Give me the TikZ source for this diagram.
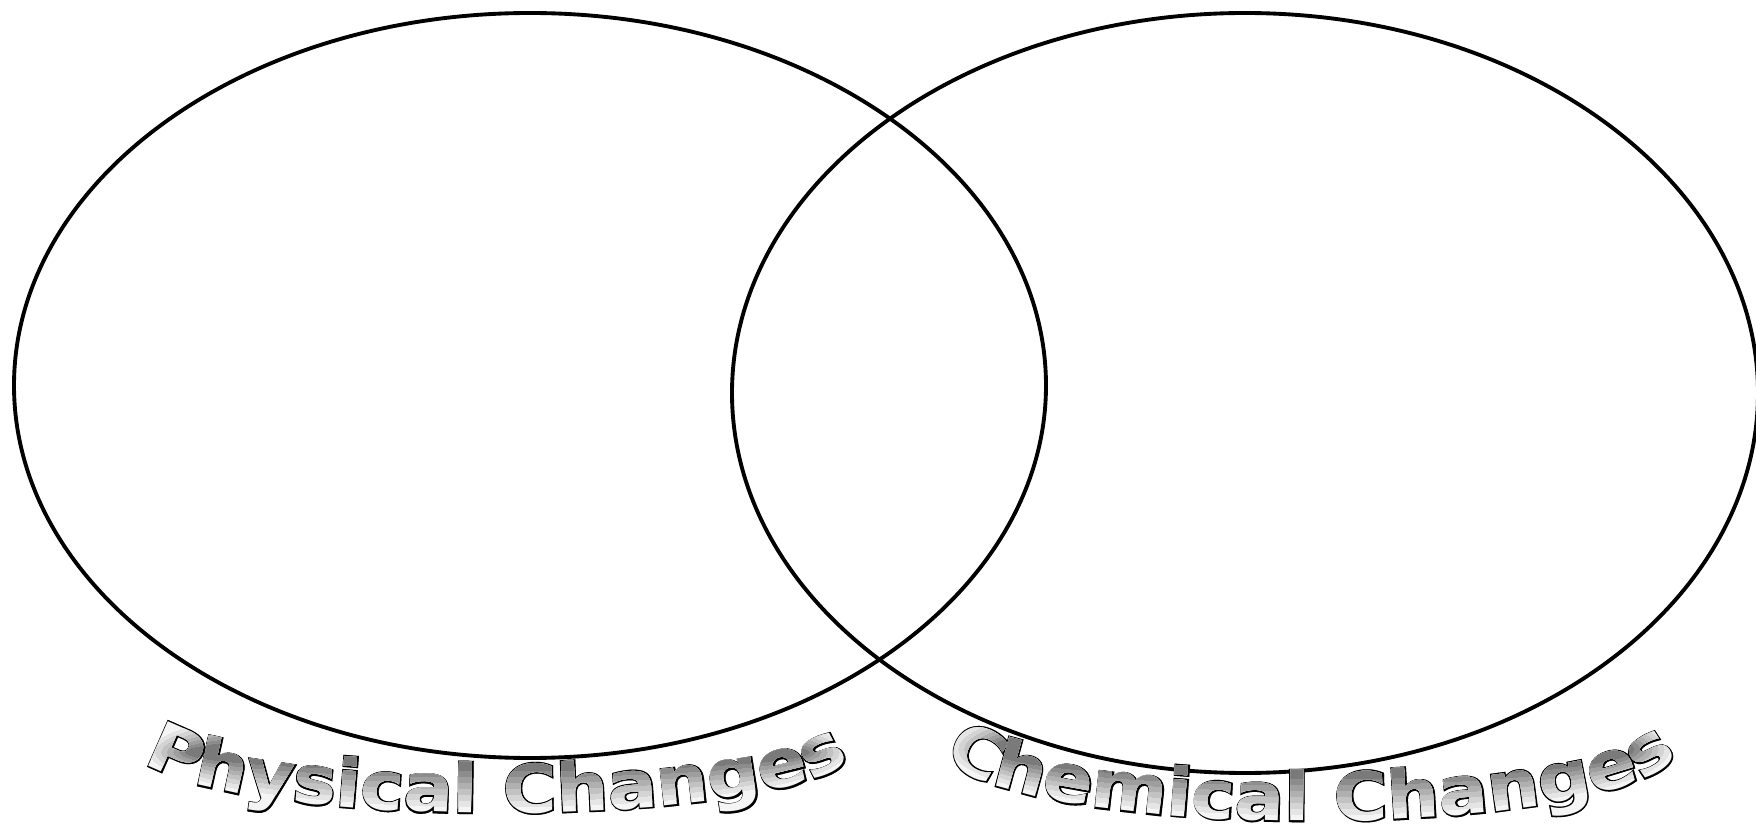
\documentclass[tikz,border=0pt]{standalone}
\usepackage{fontspec}
\usepackage{tikz}
\usetikzlibrary{decorations.text}

\newfontfamily\wordart[FakeStretch=1.1]{DejaVu Sans Bold}
\newfontfamily\wordartline[FakeStretch=1.1, FakeBold=4]{DejaVu Sans Bold}
\newcommand\artfill{\wordart\fontsize{38}{46}\selectfont}
\newcommand\artline{\wordartline\fontsize{38}{46}\selectfont}

\tikzset{
  venn/.style={line width=2.2pt},
  archtext/.style={decorate, decoration={text along path, text align=center, text color=#1}},
  physline/.style={insert path={(physarc) ++(-354,0) arc[start angle=180, end angle=360, x radius=354, y radius=61]}},
  chemline/.style={insert path={(chemarc) ++(-365,0) arc[start angle=180, end angle=360, x radius=365, y radius=72]}},
}

\begin{document}
\begin{tikzpicture}[x=0.02cm, y=0.02cm]
  \useasboundingbox (0,0) rectangle (1756,829);
  % the two sets
  \coordinate (phys) at (530,443.5);
  \coordinate (chem) at (1245,436);
  \draw[venn] (phys) ellipse [x radius=516, y radius=372.5];
  \draw[venn] (chem) ellipse [x radius=513, y radius=380];
  % arched titles: shadow, outline, then the fill, darker towards the top
  \coordinate (physarc) at (497,77);
  \coordinate (chemarc) at (1311,80);
  \path[archtext=black!70, decoration={text={|\artline|Physical Changes}}, shift={(4,-4)}, physline];
  \path[archtext=black, decoration={text={|\artline|Physical Changes}}, physline];
  \path[archtext=black!70, decoration={text={|\artline|Chemical Changes}}, shift={(4,-4)}, chemline];
  \path[archtext=black, decoration={text={|\artline|Chemical Changes}}, chemline];
  \foreach \d/\shade in {-30/4, 6/10, 12/17, 18/24, 24/31, 30/38, 36/45, 42/52} {
    \begin{scope}
      \clip (physarc) ellipse [x radius=354-\d, y radius=61-\d];
      \path[archtext=black!\shade, decoration={text={|\artfill|Physical Changes}}, physline];
    \end{scope}
    \begin{scope}
      \clip (chemarc) ellipse [x radius=365-\d, y radius=72-\d];
      \path[archtext=black!\shade, decoration={text={|\artfill|Chemical Changes}}, chemline];
    \end{scope}
  }
\end{tikzpicture}
\end{document}
